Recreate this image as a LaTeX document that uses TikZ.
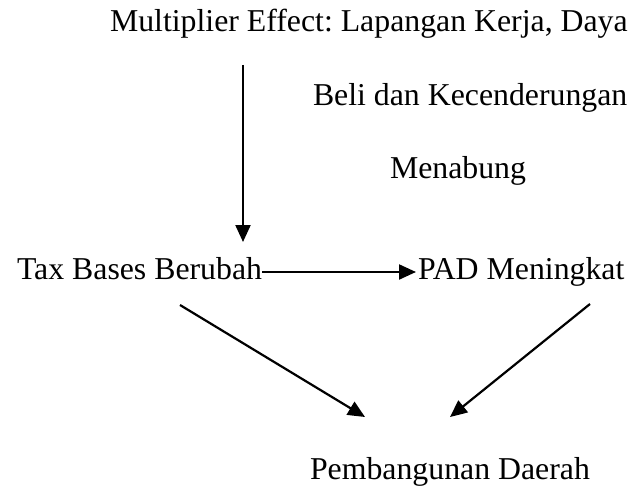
\documentclass[tikz,border=0pt]{standalone}
\usepackage{fontspec}
\setmainfont{Liberation Serif}
\usetikzlibrary{arrows.meta}
\frenchspacing
\begin{document}
\begin{tikzpicture}[x=1pt,y=-1pt,
  lbl/.style={inner sep=0pt,outer sep=0pt,anchor=base west,font=\fontsize{31.8}{38}\selectfont},
  arr/.style={line width=2.2pt,-{Triangle[length=17pt,width=15pt]}}]
\useasboundingbox (0,0) rectangle (638,487);
\node[lbl] (m1) at (110,32) {Multiplier Effect: Lapangan Kerja, Daya};
\node[lbl] (m2) at (313,106) {Beli dan Kecenderungan};
\node[lbl] (m3) at (390,178) {Menabung};
\node[lbl] (tax) at (17,279) {Tax Bases Berubah};
\node[lbl] (pad) at (418,279) {PAD Meningkat};
\node[lbl] (pem) at (310,479) {Pembangunan Daerah};
\coordinate (vs) at (243,65);
\coordinate (ve) at (243,242);
\coordinate (d1s) at (180,305);
\coordinate (d1e) at (365,417);
\coordinate (d2s) at (590,304);
\coordinate (d2e) at (450,417);
\draw[arr] (vs) -- (ve);
\draw[arr] ([yshift=7pt]tax.base east) -- ([xshift=-2pt,yshift=7pt]pad.base west);
\draw[arr] (d1s) -- (d1e);
\draw[arr] (d2s) -- (d2e);
\end{tikzpicture}
\end{document}
